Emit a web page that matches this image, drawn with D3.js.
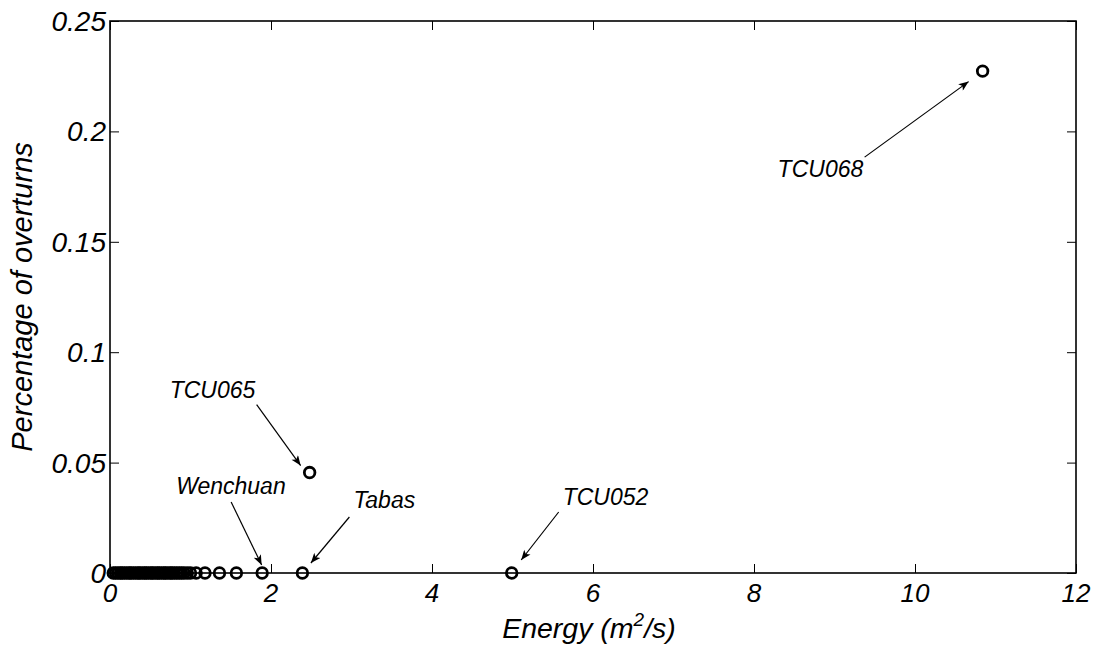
<!DOCTYPE html>
<html>
<head>
<meta charset="utf-8">
<script src="https://cdn.jsdelivr.net/npm/d3@7"></script>
<style>
  html, body { margin: 0; padding: 0; background: #fff; }
  svg { display: block; }
  text { font-family: "Liberation Sans", Arial, sans-serif; font-style: italic; fill: #000; }
</style>
</head>
<body>
<svg id="chart" width="1100" height="651"></svg>
<script>
// Energy of each record (m^2/s) and share of overturned blocks
const energy = [
  0.04, 0.07, 0.10, 0.13, 0.15, 0.18, 0.21, 0.24, 0.26, 0.29,
  0.32, 0.35, 0.37, 0.40, 0.43, 0.45, 0.48, 0.51, 0.53, 0.56,
  0.59, 0.61, 0.64, 0.67, 0.69, 0.72, 0.75, 0.77, 0.80, 0.83,
  0.86, 0.89, 0.92, 0.96, 1.00, 1.07, 1.18, 1.36, 1.57,
  1.89, 2.39, 2.48, 4.99, 10.84
];
const overturns = [
  0, 0, 0, 0, 0, 0, 0, 0, 0, 0,
  0, 0, 0, 0, 0, 0, 0, 0, 0, 0,
  0, 0, 0, 0, 0, 0, 0, 0, 0, 0,
  0, 0, 0, 0, 0, 0, 0, 0, 0,
  0, 0, 0.0455, 0, 0.2273
];
// Named records
const labelNames = ["Wenchuan", "Tabas", "TCU065", "TCU052", "TCU068"];
const labelIndex = [39, 40, 41, 42, 43];

const xTicks = [0, 2, 4, 6, 8, 10, 12];
const yTicks = [0, 0.05, 0.1, 0.15, 0.2, 0.25];
const yTickText = ["0", "0.05", "0.1", "0.15", "0.2", "0.25"];

// Layout
const box = { left: 110, right: 1076, top: 21, bottom: 573 };
const svg = d3.select("#chart");

const x = d3.scaleLinear().domain([0, 12]).range([box.left, box.right]);
const y = d3.scaleLinear().domain([0, 0.25]).range([box.bottom, box.top]);

const tickLen = 9;

// Axes: ticks pointing inward on all four sides
const axisStyle = g => {
  g.select(".domain").remove();
  g.selectAll(".tick line").attr("stroke", "#000").attr("stroke-width", 1);
  g.selectAll(".tick text").remove();
};
svg.append("g").attr("transform", `translate(0,${box.bottom})`)
  .call(d3.axisTop(x).tickValues(xTicks).tickSize(tickLen)).call(axisStyle);
svg.append("g").attr("transform", `translate(0,${box.top})`)
  .call(d3.axisBottom(x).tickValues(xTicks).tickSize(tickLen)).call(axisStyle);
svg.append("g").attr("transform", `translate(${box.left},0)`)
  .call(d3.axisRight(y).tickValues(yTicks).tickSize(tickLen)).call(axisStyle);
svg.append("g").attr("transform", `translate(${box.right},0)`)
  .call(d3.axisLeft(y).tickValues(yTicks).tickSize(tickLen)).call(axisStyle);

// Frame
svg.append("rect")
  .attr("x", box.left).attr("y", box.top)
  .attr("width", box.right - box.left).attr("height", box.bottom - box.top)
  .attr("fill", "none").attr("stroke", "#000").attr("stroke-width", 1.6);

// Tick labels
svg.append("g").selectAll("text").data(xTicks).join("text")
  .attr("x", d => x(d)).attr("y", 602)
  .attr("text-anchor", "middle").attr("font-size", 26)
  .text(d => d);
svg.append("g").selectAll("text").data(yTicks).join("text")
  .attr("x", box.left - 4).attr("y", d => y(d) + 10)
  .attr("text-anchor", "end").attr("font-size", 28)
  .text((d, i) => yTickText[i]);

// Axis titles
const xTitle = svg.append("text")
  .attr("x", (box.left + box.right) / 2 - 4).attr("y", 638)
  .attr("text-anchor", "middle").attr("font-size", 28.5);
xTitle.append("tspan").text("Energy (m");
xTitle.append("tspan").attr("dy", -12).attr("font-size", 19).text("2");
xTitle.append("tspan").attr("dy", 12).text("/s)");

svg.append("text")
  .attr("transform", `translate(32,${(box.top + box.bottom) / 2}) rotate(-90)`)
  .attr("text-anchor", "middle").attr("font-size", 29)
  .text("Percentage of overturns");

// Points
const points = energy.map((e, i) => ({ e, p: overturns[i] }));
svg.append("g").selectAll("circle").data(points).join("circle")
  .attr("cx", d => x(d.e)).attr("cy", d => y(d.p))
  .attr("r", 5.3)
  .attr("fill", "none").attr("stroke", "#000").attr("stroke-width", 2.8);

// Annotation placement: pixel offsets from the labelled point
// [tail dx, tail dy, head dx, head dy, text dx, text dy]
const annotOffsets = {
  "Wenchuan": [-31, -71, -0.5, -8, -86, -79],
  "Tabas":    [47, -56, 8.5, -10, 51, -65],
  "TCU065":   [-53, -68, -9, -7, -140, -75],
  "TCU052":   [47, -61, 9.5, -13, 51, -68],
  "TCU068":   [-118, 86, -14, 10.5, -205, 106]
};

svg.append("defs").append("marker")
  .attr("id", "arrow").attr("viewBox", "0 0 10 8")
  .attr("refX", 10).attr("refY", 4)
  .attr("markerWidth", 11).attr("markerHeight", 8)
  .attr("markerUnits", "userSpaceOnUse")
  .attr("orient", "auto")
  .append("path").attr("d", "M0,0 L10,4 L0,8 L2.5,4 Z").attr("fill", "#000");

const annG = svg.append("g");
labelNames.forEach((name, k) => {
  const d = points[labelIndex[k]];
  const px = x(d.e), py = y(d.p);
  const o = annotOffsets[name];
  annG.append("line")
    .attr("x1", px + o[0]).attr("y1", py + o[1])
    .attr("x2", px + o[2]).attr("y2", py + o[3])
    .attr("stroke", "#000").attr("stroke-width", 1.2)
    .attr("marker-end", "url(#arrow)");
  annG.append("text")
    .attr("x", px + o[4]).attr("y", py + o[5])
    .attr("font-size", 23)
    .text(name);
});
</script>
</body>
</html>
